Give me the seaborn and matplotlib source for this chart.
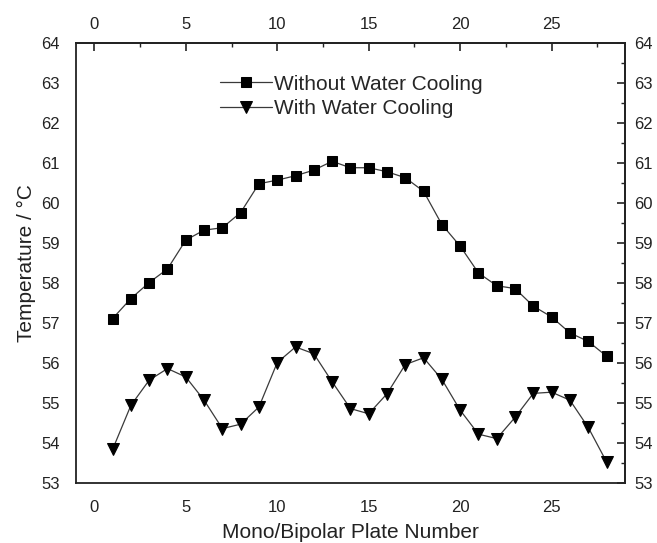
import numpy as np
import pandas as pd
import matplotlib
matplotlib.use("Agg")
import matplotlib.pyplot as plt
import seaborn as sns
from matplotlib.ticker import FixedLocator

plate = list(range(1, 29))
without_cooling = [57.11, 57.61, 58.01, 58.35, 59.07, 59.32, 59.38, 59.76, 60.48, 60.57,
                   60.68, 60.82, 61.04, 60.88, 60.88, 60.78, 60.63, 60.29, 59.46, 58.92,
                   58.25, 57.93, 57.86, 57.42, 57.15, 56.75, 56.54, 56.17]
with_cooling = [53.84, 54.94, 55.57, 55.86, 55.65, 55.07, 54.36, 54.47, 54.90, 56.01,
                56.40, 56.23, 55.53, 54.86, 54.73, 55.23, 55.96, 56.13, 55.59, 54.82,
                54.22, 54.11, 54.64, 55.24, 55.27, 55.07, 54.39, 53.53]
labels = ["Without Water Cooling", "With Water Cooling"]
x_major = [0, 5, 10, 15, 20, 25]
x_minor = [2.5, 7.5, 12.5, 17.5, 22.5, 27.5]
y_major = list(range(53, 65))
y_minor = [v + 0.5 for v in range(53, 64)]

sns.set_style("white")
plt.rcParams['font.family'] = ['Liberation Sans', 'DejaVu Sans']

fig = plt.figure(figsize=(6.57, 5.43), dpi=100)
ax = fig.add_axes([0.1157, 0.1105, 0.8353, 0.8105])

df1 = pd.DataFrame({"x": plate, "y": without_cooling})
df2 = pd.DataFrame({"x": plate, "y": with_cooling})
sns.lineplot(data=df1, x="x", y="y", ax=ax, marker="s", markersize=6.8, color="#3a3a3a",
             linewidth=0.9, markerfacecolor="black", markeredgecolor="black", label=labels[0])
sns.lineplot(data=df2, x="x", y="y", ax=ax, marker="v", markersize=8.3, color="#3a3a3a",
             linewidth=0.9, markerfacecolor="black", markeredgecolor="black", label=labels[1])

ax.set_xlim(-1, 29)
ax.set_ylim(53, 64)
ax.xaxis.set_major_locator(FixedLocator(x_major))
ax.xaxis.set_minor_locator(FixedLocator(x_minor))
ax.yaxis.set_major_locator(FixedLocator(y_major))
ax.yaxis.set_minor_locator(FixedLocator(y_minor))
ax.tick_params(axis='both', which='major', direction='out', length=5.5, width=1.2,
               labelsize=12, color='#222222', labelcolor='#222222')
ax.tick_params(axis='x', which='major', pad=6.5)
ax.tick_params(axis='y', which='major', pad=6)
ax.tick_params(axis='both', which='minor', direction='out', length=3.2, width=1.0, color='#222222')
ax.set_xlabel("Mono/Bipolar Plate Number", fontsize=15, color='#222222', labelpad=6)
ax.set_ylabel("Temperature / °C", fontsize=15, color='#222222', labelpad=4)
for s in ax.spines.values():
    s.set_linewidth(1.3)
    s.set_color('#222222')

secx = ax.secondary_xaxis('top')
secx.xaxis.set_major_locator(FixedLocator(x_major))
secx.xaxis.set_minor_locator(FixedLocator(x_minor))
secx.tick_params(axis='x', which='major', direction='in', length=5.5, width=1.2, labelsize=12,
                 color='#222222', labelcolor='#222222', pad=8)
secx.tick_params(axis='x', which='minor', direction='in', length=3.2, width=1.0, color='#222222')
secx.spines['top'].set_linewidth(1.3)

secy = ax.secondary_yaxis('right')
secy.yaxis.set_major_locator(FixedLocator(y_major))
secy.yaxis.set_minor_locator(FixedLocator(y_minor))
secy.tick_params(axis='y', which='major', direction='in', length=5.5, width=1.2, labelsize=12,
                 color='#222222', labelcolor='#222222', pad=7)
secy.tick_params(axis='y', which='minor', direction='in', length=3.2, width=1.0, color='#222222')
secy.spines['right'].set_linewidth(1.3)

ax.legend(loc='upper left', bbox_to_anchor=(0.262, 0.928), frameon=False, fontsize=15,
          handlelength=2.5, handletextpad=0.1, labelspacing=0.25, borderaxespad=0,
          borderpad=0)

fig.savefig("out.png", dpi=100)
